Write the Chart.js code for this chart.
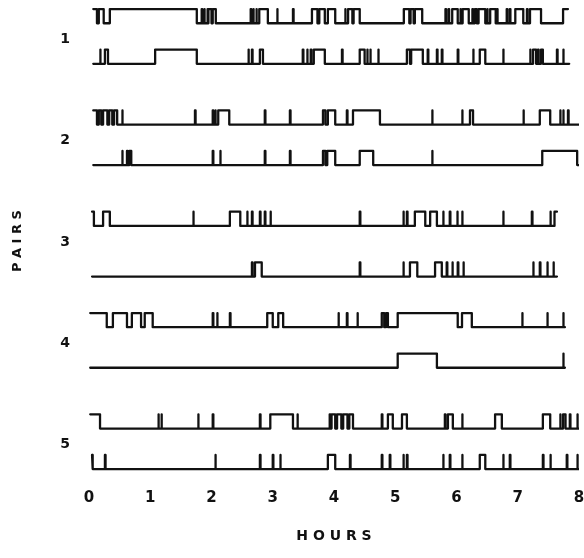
<!DOCTYPE html>
<html>
<head>
<meta charset="utf-8">
<script src="https://cdn.jsdelivr.net/npm/chart.js@4"></script>
<style>
  html, body { margin: 0; padding: 0; background: #fff; }
  #wrap { width: 584px; height: 558px; position: relative; }
</style>
</head>
<body>
<div id="wrap"><canvas id="pairs_chart"></canvas></div>
<script>
// Axis labels
const hourTicks = [0, 1, 2, 3, 4, 5, 6, 7, 8];
const pairLabels = ['1', '2', '3', '4', '5'];

// Recording span of each trace [start, end] in hours, top trace then bottom trace of each pair
const spans = [
    [[0.07, 7.82], [0.07, 7.84]],
    [[0.07, 8.0], [0.07, 7.99]],
    [[0.05, 7.64], [0.05, 7.64]],
    [[0.02, 7.77], [0.02, 7.77]],
    [[0.02, 8.0], [0.05, 8.0]]
];

// Periods where the trace is "on" (hours)
const pair1Top = [[0.07,0.13],[0.16,0.24],[0.34,1.76],[1.84,1.85],[1.88,1.89],[1.93,1.94],[1.95,2.0],[2.02,2.07],
    [2.64,2.65],[2.68,2.69],[2.73,2.74],[2.78,2.92],[3.07,3.08],[3.33,3.34],[3.64,3.73],[3.76,3.85],[3.9,4.02],
    [4.18,4.19],[4.23,4.3],[4.32,4.42],[5.14,5.23],[5.25,5.3],[5.32,5.44],[5.82,5.83],[5.87,5.88],[5.93,6.02],
    [6.06,6.07],[6.1,6.2],[6.26,6.27],[6.3,6.33],[6.36,6.47],[6.5,6.51],[6.55,6.64],[6.66,6.67],[6.82,6.83],
    [6.87,6.88],[6.96,7.09],[7.15,7.16],[7.2,7.38],[7.74,7.82]];
const pair1Bottom = [[0.18,0.19],[0.26,0.31],[1.08,1.76],[2.6,2.61],[2.66,2.67],[2.79,2.84],[3.49,3.5],[3.56,3.57],
    [3.62,3.63],[3.67,3.85],[4.13,4.14],[4.42,4.5],[4.54,4.55],[4.59,4.6],[4.72,4.73],[5.19,5.24],[5.26,5.45],
    [5.53,5.54],[5.68,5.69],[5.76,5.77],[6.02,6.03],[6.27,6.28],[6.38,6.47],[6.76,6.77],[7.2,7.21],[7.25,7.3],
    [7.33,7.34],[7.38,7.41],[7.64,7.65],[7.74,7.75]];

const pair2Top = [[0.07,0.13],[0.16,0.2],[0.23,0.3],[0.33,0.38],[0.41,0.46],[0.54,0.55],[1.73,1.74],[2.02,2.03],
    [2.06,2.07],[2.11,2.29],[2.87,2.88],[3.28,3.29],[3.82,3.86],[3.9,4.02],[4.21,4.22],[4.31,4.75],[5.6,5.61],
    [6.09,6.1],[6.22,6.27],[7.09,7.1],[7.36,7.53],[7.69,7.7],[7.74,7.75],[7.82,7.83]];
const pair2Bottom = [[0.54,0.55],[0.62,0.63],[0.66,0.69],[2.02,2.03],[2.14,2.15],[2.87,2.88],[3.28,3.29],
    [3.82,3.86],[3.89,4.02],[4.42,4.64],[5.6,5.61],[7.4,7.97]];

const pair3Top = [[0.05,0.08],[0.23,0.34],[1.7,1.71],[2.3,2.47],[2.58,2.59],[2.66,2.67],[2.79,2.8],[2.87,2.88],
    [2.96,2.97],[4.42,4.43],[5.13,5.14],[5.19,5.2],[5.32,5.49],[5.57,5.68],[5.78,5.79],[5.89,5.9],[6.01,6.02],
    [6.09,6.1],[6.76,6.77],[7.23,7.24],[7.53,7.54],[7.6,7.64]];
const pair3Bottom = [[2.66,2.67],[2.71,2.82],[4.42,4.43],[5.13,5.14],[5.24,5.36],[5.65,5.76],[5.84,5.85],
    [5.93,5.94],[6.02,6.03],[6.11,6.12],[7.25,7.26],[7.36,7.37],[7.48,7.49],[7.58,7.59]];

const pair4Top = [[0.02,0.29],[0.39,0.62],[0.7,0.85],[0.91,1.04],[2.02,2.03],[2.09,2.1],[2.3,2.31],[2.91,3.0],
    [3.09,3.17],[4.07,4.08],[4.21,4.22],[4.38,4.39],[4.78,4.82],[4.85,4.88],[5.04,6.02],[6.09,6.25],[7.07,7.08],
    [7.48,7.49],[7.74,7.75]];
const pair4Bottom = [[5.04,5.68],[7.74,7.75]];

const pair5Top = [[0.02,0.18],[1.13,1.14],[1.18,1.19],[1.78,1.79],[2.02,2.03],[2.79,2.8],[2.96,3.33],[3.4,3.41],
    [3.93,3.94],[3.96,4.02],[4.05,4.12],[4.15,4.22],[4.25,4.31],[4.78,4.79],[4.88,4.96],[5.11,5.19],[5.81,5.82],
    [5.86,5.94],[6.09,6.1],[6.63,6.74],[7.41,7.53],[7.69,7.7],[7.74,7.78],[7.85,7.86],[7.97,7.98]];
const pair5Bottom = [[0.05,0.06],[0.26,0.27],[2.06,2.07],[2.79,2.8],[3.0,3.01],[3.12,3.13],[3.9,4.02],
    [4.26,4.27],[4.78,4.79],[4.91,4.92],[5.13,5.14],[5.19,5.2],[5.78,5.79],[5.89,5.9],[6.09,6.1],[6.38,6.47],
    [6.76,6.77],[6.87,6.88],[7.41,7.42],[7.53,7.54],[7.8,7.81],[7.97,7.98]];

const pairTraces = [
    [pair1Top, pair1Bottom],
    [pair2Top, pair2Bottom],
    [pair3Top, pair3Bottom],
    [pair4Top, pair4Bottom],
    [pair5Top, pair5Bottom]
];

// layout of the lanes (in "pair" units on the y axis)
const TOP_OFF = 0.2;
const BOTTOM_OFF = [0.2, 0.2, 0.3, 0.2, 0.2];
const AMP = 0.14;

// turn on-periods into a step line
function buildTrace(base, span, highs) {
    const hi = base - AMP;
    const [t0, t1] = span;
    const pts = [];
    pts.push({ x: t0, y: (highs.length && highs[0][0] <= t0) ? hi : base });
    highs.forEach(([s, e]) => {
        if (s > t0) {
            pts.push({ x: s, y: base });
            pts.push({ x: s, y: hi });
        }
        if (e < t1) {
            pts.push({ x: e, y: hi });
            pts.push({ x: e, y: base });
        } else {
            pts.push({ x: t1, y: hi });
        }
    });
    const last = highs[highs.length - 1];
    if (!last || last[1] < t1) pts.push({ x: t1, y: base });
    return pts;
}

const datasets = [];
pairTraces.forEach((pair, i) => {
    const p = i + 1;
    datasets.push({
        label: 'Pair ' + p + ' a',
        data: buildTrace(p - TOP_OFF, spans[i][0], pair[0])
    });
    datasets.push({
        label: 'Pair ' + p + ' b',
        data: buildTrace(p + BOTTOM_OFF[i], spans[i][1], pair[1])
    });
});

const ink = '#111';

new Chart(document.getElementById('pairs_chart'), {
    type: 'line',
    data: { datasets: datasets },
    options: {
        responsive: true,
        maintainAspectRatio: false,
        animation: false,
        layout: { padding: { top: 3, right: 5, bottom: 4, left: 0 } },
        elements: {
            line: { borderColor: ink, borderWidth: 2.3, tension: 0, borderJoinStyle: 'round', borderCapStyle: 'round' },
            point: { radius: 0, hoverRadius: 0 }
        },
        scales: {
            x: {
                type: 'linear',
                min: 0,
                max: 8,
                afterBuildTicks: (scale) => { scale.ticks = hourTicks.map(v => ({ value: v })); },
                afterFit: (scale) => { scale.paddingLeft = 0; scale.paddingRight = 0; },
                ticks: {
                    color: ink,
                    padding: 10,
                    maxRotation: 0,
                    font: { family: 'DejaVu Sans', size: 15, weight: 'bold' }
                },
                grid: { display: false, drawTicks: false, tickLength: 0 },
                border: { display: false },
                title: {
                    display: true,
                    text: 'H O U R S',
                    color: ink,
                    font: { family: 'DejaVu Sans', size: 14, weight: 'bold' },
                    padding: { top: 11, bottom: 9 }
                }
            },
            y: {
                type: 'linear',
                reverse: true,
                min: 0.6,
                max: 5.3,
                afterBuildTicks: (scale) => { scale.ticks = pairLabels.map((l, i) => ({ value: i + 1 })); },
                afterFit: (scale) => { scale.width = 89; scale.paddingTop = 0; scale.paddingBottom = 0; },
                ticks: {
                    color: ink,
                    padding: 19,
                    labelOffset: -4,
                    callback: (v) => pairLabels[Math.round(v) - 1],
                    font: { family: 'DejaVu Sans', size: 14, weight: 'bold' }
                },
                grid: { display: false, drawTicks: false, tickLength: 0 },
                border: { display: false },
                title: {
                    display: true,
                    text: 'P A I R S',
                    color: ink,
                    font: { family: 'DejaVu Sans', size: 13, weight: 'bold' },
                    padding: { top: 10, bottom: 0 }
                }
            }
        },
        plugins: {
            legend: { display: false },
            tooltip: { enabled: false }
        }
    }
});
</script>
</body>
</html>
